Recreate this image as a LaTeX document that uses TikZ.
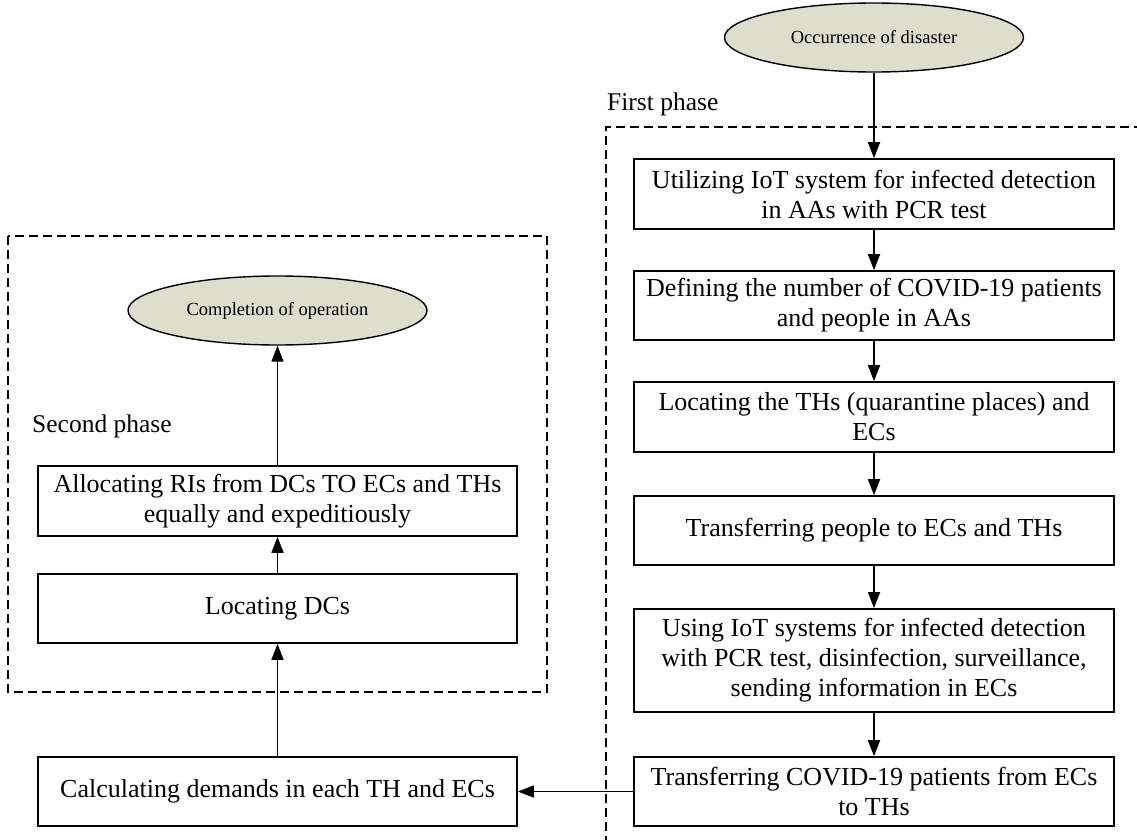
\documentclass[tikz,border=0pt]{standalone}
\usepackage{fontspec}
\setmainfont{Liberation Serif}
\usetikzlibrary{arrows.meta,shapes.geometric}
\definecolor{ellfill}{RGB}{221,222,203}
\begin{document}
\begin{tikzpicture}[x=1pt,y=-1pt,
  stepbox/.style={draw,line width=1.7pt,inner sep=0pt,align=center,
    font=\fontsize{26}{30}\selectfont},
  rbox/.style={stepbox,minimum width=480pt},
  lbox/.style={stepbox,minimum width=479pt},
  terminal/.style={ellipse,draw,line width=1.4pt,fill=ellfill,inner sep=0pt,
    minimum width=299pt,minimum height=69pt,font=\fontsize{18.5}{22}\selectfont},
  phaselabel/.style={anchor=base west,inner sep=0pt,font=\fontsize{25.5}{30}\selectfont},
  phasebox/.style={line width=1.4pt,dash pattern=on 9pt off 5pt},
  flow/.style={line width=1.7pt,-{Triangle[length=16pt,width=12pt]}}]
\useasboundingbox (0,0) rectangle (1137,840);

% dashed phase frames
\draw[phasebox] (606,845) -- (606,127) -- (1142,127);
\draw[phasebox] (8,236) rectangle (547,692);

% labels
\node[phaselabel] (lab1) at (607,111) {First phase};
\node[phaselabel] (lab2) at (32,432) {Second phase};

% first phase
\node[terminal] (start) at (874,37.5) {Occurrence of disaster};
\node[rbox,minimum height=70pt] (b1) at (874,194) {Utilizing IoT system for infected detection\\in AAs with PCR test};
\node[rbox,minimum height=69pt] (b2) at (874,305.5) {Defining the number of COVID-19 patients\\and people in AAs};
\node[rbox,minimum height=70pt] (b3) at (874,417) {Locating the THs (quarantine places) and\\ECs};
\node[rbox,minimum height=69pt] (b4) at (874,530.5) {Transferring people to ECs and THs};
\node[rbox,minimum height=103pt] (b5) at (874,660.5) {Using IoT systems for infected detection\\with PCR test, disinfection, surveillance,\\sending information in ECs};
\node[rbox,minimum height=69pt] (b6) at (874,791.5) {Transferring COVID-19 patients from ECs\\to THs};

% second phase
\node[terminal] (finish) at (277.5,310.5) {Completion of operation};
\node[lbox,minimum height=70pt] (a1) at (277.5,501) {Allocating RIs from DCs TO ECs and THs\\equally and expeditiously};
\node[lbox,minimum height=69pt] (a2) at (277.5,608.5) {Locating DCs};
\node[lbox,minimum height=69pt] (a3) at (277.5,791.5) {Calculating demands in each TH and ECs};

% connectors
\draw[flow] (start) -- (b1);
\draw[flow] (b1) -- (b2);
\draw[flow] (b2) -- (b3);
\draw[flow] (b3) -- (b4);
\draw[flow] (b4) -- (b5);
\draw[flow] (b5) -- (b6);
\draw[flow] (b6) -- (a3);
\draw[flow] (a3) -- (a2);
\draw[flow] (a2) -- (a1);
\draw[flow] (a1) -- (finish);
\end{tikzpicture}
\end{document}
